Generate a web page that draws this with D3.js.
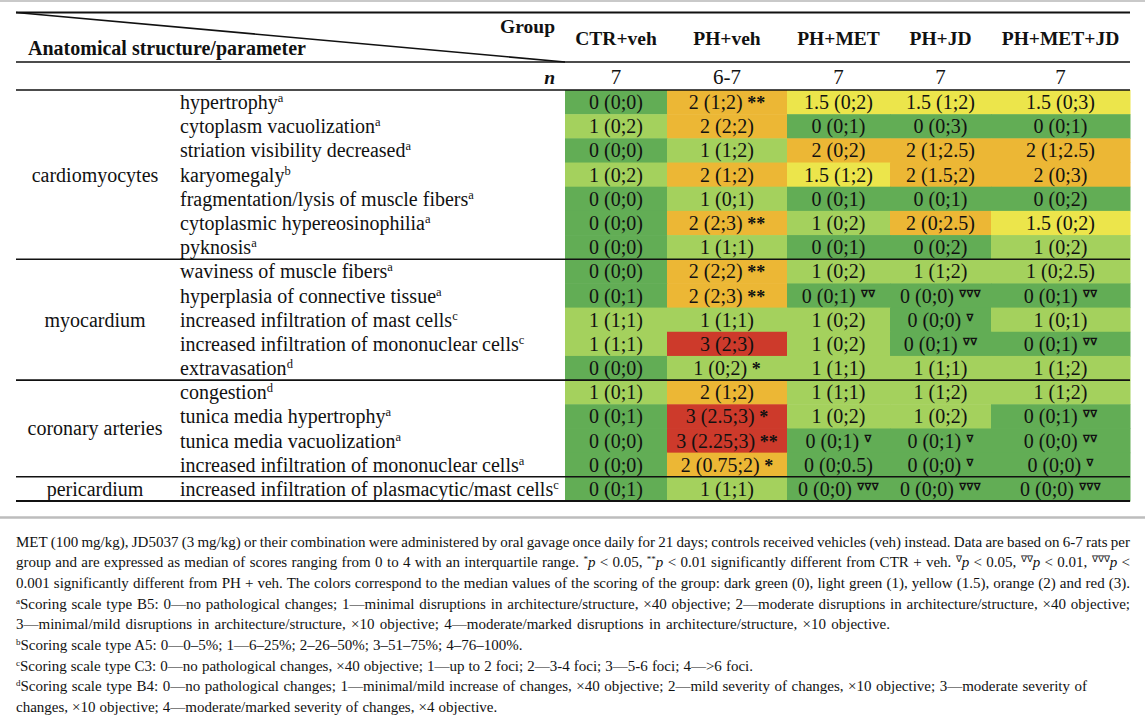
<!DOCTYPE html>
<html><head><meta charset="utf-8">
<script src="https://cdn.jsdelivr.net/npm/d3@7"></script>
<style>
body{margin:0;background:#fff}
text{font-family:"Liberation Serif","Times New Roman",serif;fill:#111}
</style>
</head><body>
<svg id="c" width="1145" height="719"></svg>
<script>
// ---------- DATA ----------
const groups = ["CTR+veh","PH+veh","PH+MET","PH+JD","PH+MET+JD"];
const nValues = ["7","6-7","7","7","7"];
const structures = ["cardiomyocytes","myocardium","coronary arteries","pericardium"];
const structureOf = [0,0,0,0,0,0,0,1,1,1,1,1,2,2,2,2,3];
const parameters = [
  "hypertrophy","cytoplasm vacuolization","striation visibility decreased","karyomegaly",
  "fragmentation/lysis of muscle fibers","cytoplasmic hypereosinophilia","pyknosis",
  "waviness of muscle fibers","hyperplasia of connective tissue","increased infiltration of mast cells",
  "increased infiltration of mononuclear cells","extravasation",
  "congestion","tunica media hypertrophy","tunica media vacuolization","increased infiltration of mononuclear cells",
  "increased infiltration of plasmacytic/mast cells"
];
const paramScale = ["a","a","a","b","a","a","a","a","a","c","c","d","d","a","a","a","c"];
const medians = [
  [0,2,1.5,1.5,1.5],
  [1,2,0,0,0],
  [0,1,2,2,2],
  [1,2,1.5,2,2],
  [0,1,0,0,0],
  [0,2,1,2,1.5],
  [0,1,0,0,1],
  [0,2,1,1,1],
  [0,2,0,0,0],
  [1,1,1,0,1],
  [1,3,1,0,0],
  [0,1,1,1,1],
  [1,2,1,1,1],
  [0,3,1,1,0],
  [0,3,0,0,0],
  [0,2,0,0,0],
  [0,1,0,0,0]
];
const iqr = [
  ["0;0","1;2","0;2","1;2","0;3"],
  ["0;2","2;2","0;1","0;3","0;1"],
  ["0;0","1;2","0;2","1;2.5","1;2.5"],
  ["0;2","1;2","1;2","1.5;2","0;3"],
  ["0;0","0;1","0;1","0;1","0;2"],
  ["0;0","2;3","0;2","0;2.5","0;2"],
  ["0;0","1;1","0;1","0;2","0;2"],
  ["0;0","2;2","0;2","1;2","0;2.5"],
  ["0;1","2;3","0;1","0;0","0;1"],
  ["1;1","1;1","0;2","0;0","0;1"],
  ["1;1","2;3","0;2","0;1","0;1"],
  ["0;0","0;2","1;1","1;1","1;2"],
  ["0;1","1;2","1;1","1;2","1;2"],
  ["0;1","2.5;3","0;2","0;2","0;1"],
  ["0;0","2.25;3","0;1","0;1","0;0"],
  ["0;0","0.75;2","0;0.5","0;0","0;0"],
  ["0;1","1;1","0;0","0;0","0;0"]
];
// "*" = vs CTR+veh ; "v" = vs PH+veh (triangles)
const signif = [
  ["","**","","",""],
  ["","","","",""],
  ["","","","",""],
  ["","","","",""],
  ["","","","",""],
  ["","**","","",""],
  ["","","","",""],
  ["","**","","",""],
  ["","**","vv","vvv","vv"],
  ["","","","v",""],
  ["","","","vv","vv"],
  ["","*","","",""],
  ["","","","",""],
  ["","*","","","vv"],
  ["","**","v","v","vv"],
  ["","*","","v","v"],
  ["","","vvv","vvv","vvv"]
];
const scoreLevels = [0,1,1.5,2,3];
const scoreColors = ["#62ad55","#a4d15d","#ece54b","#ecb735","#cd3a2b"];

// footnote lines: segments [text, style] ; style: "" normal, "s" superscript, "i" italic
const notes = [
  [["MET (100 mg/kg), JD5037 (3 mg/kg) or their combination were administered by oral gavage once daily for 21 days; controls received vehicles (veh) instead. Data are based on 6-7 rats per",""]],
  [["group and are expressed as median of scores ranging from 0 to 4 with an interquartile range. ",""],["*","s"],["p","i"],[" < 0.05, ",""],["**","s"],["p","i"],[" < 0.01 significantly different from CTR + veh. ",""],["∇","s"],["p","i"],[" < 0.05, ",""],["∇∇","s"],["p","i"],[" < 0.01, ",""],["∇∇∇","s"],["p","i"],[" <",""]],
  [["0.001 significantly different from PH + veh. The colors correspond to the median values of the scoring of the group: dark green (0), light green (1), yellow (1.5), orange (2) and red (3).",""]],
  [["a","s"],["Scoring scale type B5: 0—no pathological changes; 1—minimal disruptions in architecture/structure, ×40 objective; 2—moderate disruptions in architecture/structure, ×40 objective;",""]],
  [["3—minimal/mild disruptions in architecture/structure, ×10 objective; 4—moderate/marked disruptions in architecture/structure, ×10 objective.",""]],
  [["b","s"],["Scoring scale type A5: 0—0–5%; 1—6–25%; 2–26–50%; 3–51–75%; 4–76–100%.",""]],
  [["c","s"],["Scoring scale type C3: 0—no pathological changes, ×40 objective; 1—up to 2 foci; 2—3-4 foci; 3—5-6 foci; 4—>6 foci.",""]],
  [["d","s"],["Scoring scale type B4: 0—no pathological changes; 1—minimal/mild increase of changes, ×40 objective; 2—mild severity of changes, ×10 objective; 3—moderate severity of",""]],
  [["changes, ×10 objective; 4—moderate/marked severity of changes, ×4 objective.",""]]
];

// ---------- LAYOUT ----------
const W = 1145;
const tableL = 16, tableR = 1130;
const dataL = 565;
const colWeights = [102,120,103,101,139];
const noteEnds = [1130,1130,1130,1130,890,503,742,1087,488];
const noteJustify = [true,true,true,true,false,false,false,true,false];
const fs = 20;
const hfs = 19.5;

const svg = d3.select("#c");

const cum = [0]; colWeights.forEach((w,i)=>cum.push(cum[i]+w));
const xs = d3.scaleLinear().domain([0,cum[cum.length-1]]).range([dataL,tableR]);
const colL = i => xs(cum[i]), colR = i => xs(cum[i+1]), colC = i => (colL(i)+colR(i))/2;

const y = d3.scaleBand().domain(d3.range(parameters.length)).range([90,501]).padding(0);
const color = d3.scaleOrdinal().domain(scoreLevels).range(scoreColors);

// cells
const rows = svg.append("g").selectAll("g").data(medians).join("g");
rows.selectAll("rect").data((d,r)=>d.map((m,c)=>({r,c,m}))).join("rect")
  .attr("x",d=>colL(d.c)).attr("width",d=>colR(d.c)-colL(d.c)+0.5)
  .attr("y",d=>y(d.r)).attr("height",y.bandwidth()+0.5)
  .attr("fill",d=>color(d.m));

// cell text
rows.selectAll("text").data((d,r)=>d.map((m,c)=>({r,c,m}))).join("text")
  .attr("x",d=>colC(d.c)).attr("y",d=>y(d.r)+y.bandwidth()/2).attr("dy","0.35em")
  .attr("text-anchor","middle").attr("font-size",fs)
  .each(function(d){
    const t = d3.select(this);
    t.append("tspan").text(`${d.m} (${iqr[d.r][d.c]})`);
    const s = signif[d.r][d.c];
    if (s.startsWith("*")) t.append("tspan").text(" "+s).attr("font-weight","bold").attr("font-size",18);
    else if (s) {
      t.append("tspan").text(" ");
      t.append("tspan").text("∇".repeat(s.length)).attr("font-size",10.5).attr("font-weight","bold")
        .attr("baseline-shift","55%").attr("font-family","DejaVu Sans");
    }
  });

// parameter labels
const pl = svg.append("g").selectAll("text").data(parameters).join("text")
  .attr("x",180).attr("y",(d,i)=>y(i)+y.bandwidth()/2).attr("dy","0.35em").attr("font-size",fs);
pl.append("tspan").text(d=>d);
pl.append("tspan").text((d,i)=>paramScale[i]).attr("font-size",12.5).attr("baseline-shift","super");

// structure labels
structures.forEach((s,k)=>{
  const idx = structureOf.map((v,i)=>v===k?i:-1).filter(i=>i>=0);
  const top = y(idx[0]), bot = y(idx[idx.length-1])+y.bandwidth();
  svg.append("text").attr("x",95).attr("y",(top+bot)/2).attr("dy","0.35em")
    .attr("text-anchor","middle").attr("font-size",fs).text(s);
});

// header
svg.append("text").attr("x",555).attr("y",33).attr("text-anchor","end")
  .attr("font-size",hfs).attr("font-weight","bold").text("Group");
svg.append("text").attr("x",28).attr("y",55)
  .attr("font-size",20).attr("font-weight","bold").text("Anatomical structure/parameter");
svg.append("g").selectAll("text").data(groups).join("text")
  .attr("x",(d,i)=>colC(i)).attr("y",45).attr("text-anchor","middle")
  .attr("font-size",hfs).attr("font-weight","bold").text(d=>d);
svg.append("text").attr("x",555).attr("y",84).attr("text-anchor","end")
  .attr("font-size",hfs).attr("font-weight","bold").attr("font-style","italic").text("n");
svg.append("g").selectAll("text").data(nValues).join("text")
  .attr("x",(d,i)=>colC(i)).attr("y",84).attr("text-anchor","middle")
  .attr("font-size",21).text(d=>d);

// rules
const hl = (yy,sw,col,x1=tableL,x2=tableR)=>svg.append("line").attr("x1",x1).attr("x2",x2)
  .attr("y1",yy).attr("y2",yy).attr("stroke",col).attr("stroke-width",sw);
hl(1,2,"#c9c9c9",0,W);
hl(12.5,2,"#111");
svg.append("line").attr("x1",tableL).attr("y1",12.5).attr("x2",dataL).attr("y2",62)
  .attr("stroke","#111").attr("stroke-width",1.6);
hl(62,1.6,"#111");
hl(90,1.6,"#111");
structures.forEach((s,k)=>{
  const idx = structureOf.map((v,i)=>v===k?i:-1).filter(i=>i>=0);
  const bot = y(idx[idx.length-1])+y.bandwidth();
  hl(bot, k===structures.length-1?2:1.6, "#111");
});
hl(517.5,2.5,"#bdbdbd",0,W);

// footnotes
const nf = 15;
notes.forEach((segs,li)=>{
  const t = svg.append("text").attr("x",tableL).attr("y",546.5+li*20.7).attr("font-size",nf).attr("fill","#222");
  segs.forEach(([txt,st])=>{
    const ts = t.append("tspan").text(txt);
    if (st==="s") ts.attr("font-size",9).attr("baseline-shift","super");
    if (st==="i") ts.attr("font-style","italic");
  });
  const full = segs.map(s=>s[0]).join("");
  const spaces = (full.match(/ /g)||[]).length;
  const len = t.node().getComputedTextLength();
  const target = noteEnds[li]-tableL;
  let ws = (target-len)/spaces;
  if (!noteJustify[li]) ws = Math.max(0.3, ws);
  if (spaces>0) t.attr("word-spacing",ws);
});
</script>
</body></html>
